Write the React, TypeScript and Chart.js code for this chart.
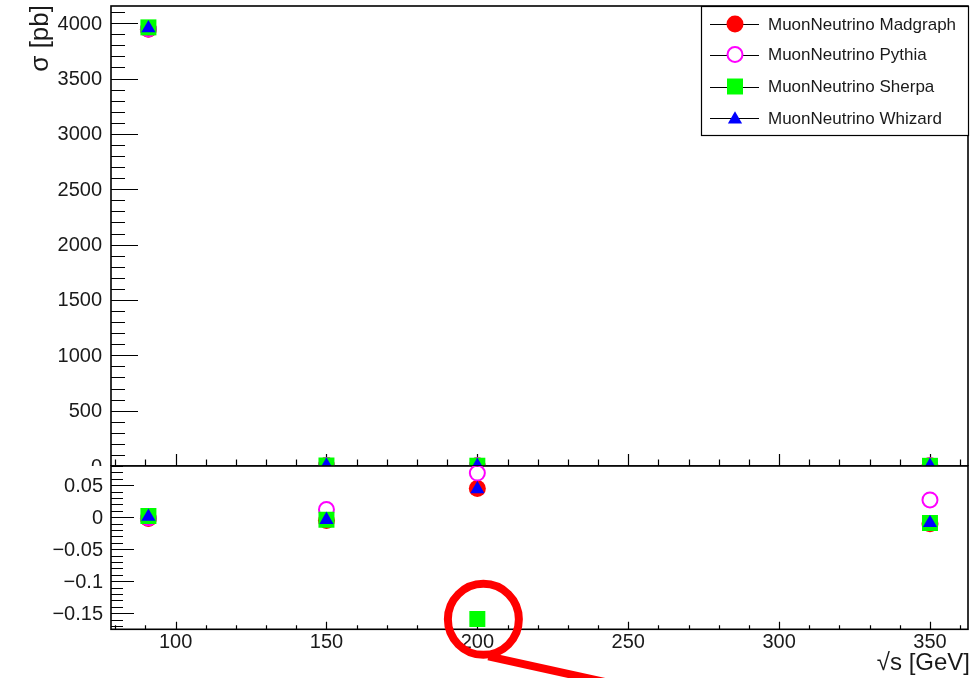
import React, { useEffect, useRef } from "react";
import { Chart, registerables } from "chart.js";

Chart.register(...registerables);

// ---------------- data ----------------
const energies = [91, 150, 200, 350];

const madgraphXsec = [3945, 4.55, 3.2, 1.58];
const pythiaXsec = [3948, 4.63, 3.27, 1.64];
const sherpaXsec = [3962, 4.56, 2.57, 1.585];
const whizardXsec = [3955, 4.56, 3.2, 1.585];

const madgraphRatio = [-0.002, -0.005, 0.045, -0.01];
const pythiaRatio = [-0.001, 0.012, 0.069, 0.027];
const sherpaRatio = [0.002, -0.004, -0.159, -0.009];
const whizardRatio = [0.001, -0.004, 0.044, -0.009];

const seriesNames = [
  "MuonNeutrino Madgraph",
  "MuonNeutrino Pythia",
  "MuonNeutrino Sherpa",
  "MuonNeutrino Whizard",
];

const xTickValues = [100, 150, 200, 250, 300, 350];
const xTickLabels = ["100", "150", "200", "250", "300", "350"];
const topYTickValues = [0, 500, 1000, 1500, 2000, 2500, 3000, 3500, 4000];
const topYTickLabels = ["0", "500", "1000", "1500", "2000", "2500", "3000", "3500", "4000"];
const botYTickValues = [-0.15, -0.1, -0.05, 0, 0.05];
const botYTickLabels = ["\u22120.15", "\u22120.1", "\u22120.05", "0", "0.05"];

const X_MIN = 78.6;
const X_MAX = 362.6;
const TOP_Y_MIN = 0;
const TOP_Y_MAX = 4155;
const BOT_Y_MIN = -0.175;
const BOT_Y_MAX = 0.08;

// ---------------- styles ----------------
const FONT = '"Liberation Sans", Arial, Helvetica, sans-serif';
const TEXT = "#1a1a1a";
const RED = "#ff0000";
const MAGENTA = "#ff00ff";
const GREEN = "#00ff00";
const BLUE = "#0000ff";

type Style = {
  pointStyle: string;
  radius: number;
  bg: string;
  border: string;
  bw: number;
};
const styles: Style[] = [
  { pointStyle: "circle", radius: 8.5, bg: RED, border: RED, bw: 0 },
  { pointStyle: "circle", radius: 7.5, bg: "rgba(0,0,0,0)", border: MAGENTA, bw: 2 },
  { pointStyle: "rect", radius: 11.3, bg: GREEN, border: GREEN, bw: 0 },
  { pointStyle: "triangle", radius: 8.2, bg: BLUE, border: BLUE, bw: 0 },
];

function makeDatasets(values: number[][]) {
  return values.map((vals, i) => ({
    label: seriesNames[i],
    data: energies.map((e, k) => ({ x: e, y: vals[k] })),
    order: values.length - i, // later series drawn on top
    pointStyle: styles[i].pointStyle as any,
    pointRadius: styles[i].radius,
    pointHoverRadius: styles[i].radius,
    pointBackgroundColor: styles[i].bg,
    pointBorderColor: styles[i].border,
    pointBorderWidth: styles[i].bw,
    showLine: false,
    clip: 0,
  }));
}

function drawXTicks(ctx: CanvasRenderingContext2D, chart: any, majorLen: number, minorLen: number) {
  const xs = chart.scales.x;
  const a = chart.chartArea;
  ctx.beginPath();
  for (let v = 80; v <= 360; v += 10) {
    const px = Math.round(xs.getPixelForValue(v)) + 0.5;
    const isMajor = v % 50 === 0;
    const len = isMajor ? majorLen : minorLen;
    ctx.moveTo(px, a.bottom);
    ctx.lineTo(px, a.bottom - len);
  }
  ctx.stroke();
}

function drawYTicks(
  ctx: CanvasRenderingContext2D,
  chart: any,
  majors: number[],
  minorFrom: number,
  minorTo: number,
  minorStep: number,
  majorLen: number,
  minorLen: number
) {
  const ys = chart.scales.y;
  const a = chart.chartArea;
  ctx.beginPath();
  const n = Math.round((minorTo - minorFrom) / minorStep);
  for (let i = 0; i <= n; i++) {
    const v = minorFrom + i * minorStep;
    const py = Math.round(ys.getPixelForValue(v)) + 0.5;
    if (py < a.top || py > a.bottom + 0.6) continue;
    ctx.moveTo(a.left, py);
    ctx.lineTo(a.left + minorLen, py);
  }
  for (const v of majors) {
    const py = Math.round(ys.getPixelForValue(v)) + 0.5;
    ctx.moveTo(a.left, py);
    ctx.lineTo(a.left + majorLen, py);
  }
  ctx.stroke();
}

function drawMarker(ctx: CanvasRenderingContext2D, s: Style, x: number, y: number) {
  ctx.save();
  ctx.fillStyle = s.bg;
  ctx.strokeStyle = s.border;
  ctx.lineWidth = s.bw;
  ctx.beginPath();
  if (s.pointStyle === "circle") {
    ctx.arc(x, y, s.radius, 0, Math.PI * 2);
    ctx.fill();
    if (s.bw) ctx.stroke();
  } else if (s.pointStyle === "rect") {
    const h = s.radius * Math.SQRT1_2;
    ctx.rect(x - h, y - h, 2 * h, 2 * h);
    ctx.fill();
  } else {
    const r = s.radius;
    ctx.moveTo(x, y - r);
    ctx.lineTo(x + r * 0.866, y + r / 2);
    ctx.lineTo(x - r * 0.866, y + r / 2);
    ctx.closePath();
    ctx.fill();
  }
  ctx.restore();
}

const topPlugin = {
  id: "topPanel",
  beforeDatasetsDraw(chart: any) {
    const ctx: CanvasRenderingContext2D = chart.ctx;
    const a = chart.chartArea;
    ctx.save();
    ctx.strokeStyle = "#000";
    ctx.lineWidth = 1.2;
    drawYTicks(ctx, chart, topYTickValues, 0, 4100, 100, 27, 14);
    drawXTicks(ctx, chart, 12, 6.5);
    // tick labels
    ctx.fillStyle = TEXT;
    ctx.font = `20px ${FONT}`;
    ctx.textAlign = "right";
    ctx.textBaseline = "middle";
    topYTickValues.forEach((v, i) => {
      const py = chart.scales.y.getPixelForValue(v);
      ctx.fillText(topYTickLabels[i], 102, py + 1);
    });
    // axis title
    ctx.save();
    ctx.translate(48, 5);
    ctx.rotate(-Math.PI / 2);
    ctx.font = `26px ${FONT}`;
    ctx.textAlign = "right";
    ctx.textBaseline = "alphabetic";
    ctx.fillText("\u03c3 [pb]", 0, 0);
    ctx.restore();
    // frame
    ctx.lineWidth = 1.6;
    ctx.strokeStyle = "#000";
    ctx.strokeRect(a.left, a.top, a.right - a.left, a.bottom - a.top);
    ctx.restore();
  },
  afterDraw(chart: any) {
    const ctx: CanvasRenderingContext2D = chart.ctx;
    ctx.save();
    // legend box
    const lx = 701, ly = 6, lw = 267, lh = 129;
    ctx.fillStyle = "#fff";
    ctx.fillRect(lx, ly, lw, lh);
    ctx.strokeStyle = "#000";
    ctx.lineWidth = 1.2;
    ctx.strokeRect(lx + 0.5, ly + 0.5, lw, lh);
    const rows = [24, 54.5, 86.5, 118];
    ctx.font = `17px ${FONT}`;
    ctx.textAlign = "left";
    ctx.textBaseline = "middle";
    seriesNames.forEach((name, i) => {
      const y = rows[i];
      ctx.strokeStyle = "#000";
      ctx.lineWidth = 1.2;
      ctx.beginPath();
      ctx.moveTo(710, Math.round(y) + 0.5);
      ctx.lineTo(759, Math.round(y) + 0.5);
      ctx.stroke();
      const s = styles[i];
      if (s.pointStyle === "circle" && s.bw) {
        ctx.save();
        ctx.fillStyle = "#fff";
        ctx.beginPath();
        ctx.arc(735, y, s.radius, 0, Math.PI * 2);
        ctx.fill();
        ctx.restore();
      }
      drawMarker(ctx, s, 735, s.pointStyle === "triangle" ? y + 1.5 : y);
      ctx.fillStyle = TEXT;
      ctx.fillText(name, 768, y + 1);
    });
    ctx.restore();
  },
};

const botPlugin = {
  id: "botPanel",
  beforeDatasetsDraw(chart: any) {
    const ctx: CanvasRenderingContext2D = chart.ctx;
    const a = chart.chartArea;
    ctx.save();
    ctx.strokeStyle = "#000";
    ctx.lineWidth = 1.2;
    drawYTicks(ctx, chart, botYTickValues, -0.17, 0.08, 0.01, 23, 12);
    drawXTicks(ctx, chart, 7.5, 4);
    ctx.fillStyle = TEXT;
    ctx.font = `20px ${FONT}`;
    ctx.textAlign = "right";
    ctx.textBaseline = "middle";
    botYTickValues.forEach((v, i) => {
      const py = chart.scales.y.getPixelForValue(v);
      ctx.fillText(botYTickLabels[i], 103, py + 1);
    });
    ctx.textAlign = "center";
    xTickValues.forEach((v, i) => {
      const px = chart.scales.x.getPixelForValue(v);
      ctx.fillText(xTickLabels[i], px, a.bottom + 13);
    });
    // x title
    ctx.font = `24px ${FONT}`;
    ctx.textAlign = "right";
    ctx.textBaseline = "alphabetic";
    ctx.fillText("\u221As [GeV]", 970, a.bottom + 41);
    // y title
    ctx.save();
    ctx.translate(36, 549);
    ctx.rotate(-Math.PI / 2);
    ctx.font = `22px ${FONT}`;
    ctx.textAlign = "center";
    ctx.textBaseline = "alphabetic";
    ctx.fillText("\u0394\u03c3/<\u03c3>", 0, 0);
    ctx.restore();
    // frame
    ctx.lineWidth = 1.6;
    ctx.strokeRect(a.left, a.top, a.right - a.left, a.bottom - a.top);
    ctx.restore();
  },
  afterDraw(chart: any) {
    const ctx: CanvasRenderingContext2D = chart.ctx;
    ctx.save();
    // red highlight annotation around the Sherpa point at 200 GeV
    const cx = chart.scales.x.getPixelForValue(202);
    const cy = chart.scales.y.getPixelForValue(-0.1595);
    ctx.strokeStyle = RED;
    ctx.lineWidth = 8;
    ctx.beginPath();
    ctx.arc(cx, cy, 35.5, 0, Math.PI * 2);
    ctx.stroke();
    ctx.lineCap = "butt";
    ctx.beginPath();
    ctx.moveTo(cx + 5, cy + 37);
    ctx.lineTo(cx + 205, cy + 81);
    ctx.stroke();
    ctx.restore();
  },
};

function baseOptions(yMin: number, yMax: number, padding: any) {
  return {
    responsive: false,
    animation: false as const,
    events: [] as any[],
    layout: { padding, autoPadding: false },
    plugins: {
      legend: { display: false },
      tooltip: { enabled: false },
      title: { display: false },
    },
    scales: {
      x: { type: "linear" as const, min: X_MIN, max: X_MAX, display: false },
      y: { type: "linear" as const, min: yMin, max: yMax, display: false },
    },
  };
}

export default function App() {
  const topRef = useRef<HTMLCanvasElement | null>(null);
  const botRef = useRef<HTMLCanvasElement | null>(null);

  useEffect(() => {
    if (!topRef.current || !botRef.current) return;
    const top = new Chart(topRef.current, {
      type: "scatter",
      data: { datasets: makeDatasets([madgraphXsec, pythiaXsec, sherpaXsec, whizardXsec]) as any },
      options: baseOptions(TOP_Y_MIN, TOP_Y_MAX, { left: 111, top: 6, right: 11, bottom: 0 }) as any,
      plugins: [topPlugin],
    });
    const bot = new Chart(botRef.current, {
      type: "scatter",
      data: { datasets: makeDatasets([madgraphRatio, pythiaRatio, sherpaRatio, whizardRatio]) as any },
      options: baseOptions(BOT_Y_MIN, BOT_Y_MAX, { left: 111, top: 20, right: 11, bottom: 48.7 }) as any,
      plugins: [botPlugin],
    });
    return () => {
      top.destroy();
      bot.destroy();
    };
  }, []);

  return (
    <div
      style={{
        position: "fixed",
        left: 0,
        top: 0,
        width: 979,
        height: 678,
        background: "#fff",
        overflow: "hidden",
      }}
    >
      <canvas
        ref={topRef}
        width={979}
        height={466}
        style={{ position: "absolute", left: 0, top: 0, width: 979, height: 466 }}
      />
      <canvas
        ref={botRef}
        width={979}
        height={232}
        style={{ position: "absolute", left: 0, top: 446, width: 979, height: 232 }}
      />
    </div>
  );
}
